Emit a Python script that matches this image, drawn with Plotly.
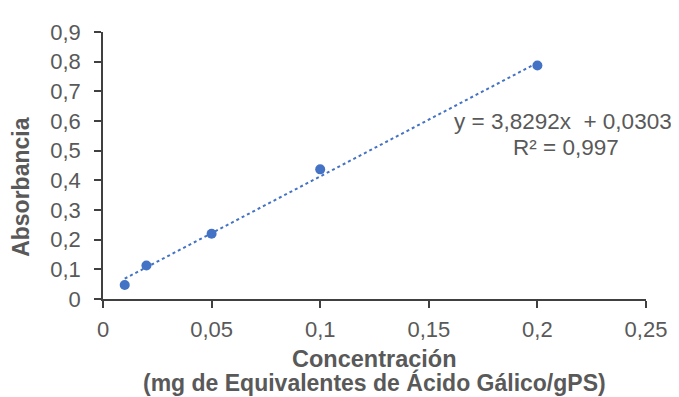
import plotly.graph_objects as go

conc = [0.01, 0.02, 0.05, 0.1, 0.2]
absorb = [0.047, 0.113, 0.22, 0.437, 0.787]
slope = 3.8292
intercept = 0.0303
r2_text = "0,997"

x_ticks = [0, 0.05, 0.1, 0.15, 0.2, 0.25]
x_tick_labels = ["0", "0,05", "0,1", "0,15", "0,2", "0,25"]
y_ticks = [0, 0.1, 0.2, 0.3, 0.4, 0.5, 0.6, 0.7, 0.8, 0.9]
y_tick_labels = ["0", "0,1", "0,2", "0,3", "0,4", "0,5", "0,6", "0,7", "0,8", "0,9"]

x_title_lines = ["Concentración", "(mg de Equivalentes de Ácido Gálico/gPS)"]
y_title = "Absorbancia"

trend_x = [min(conc), max(conc)]
trend_y = [slope * v + intercept for v in trend_x]

blue = "#4472C4"
gray = "#595959"
axis_col = "#404040"
font = "Liberation Sans, Arial, sans-serif"

fig = go.Figure()
fig.add_trace(go.Scatter(x=trend_x, y=trend_y, mode="lines",
                         line=dict(color=blue, width=2, dash="dot"),
                         hoverinfo="skip", showlegend=False))
fig.add_trace(go.Scatter(x=conc, y=absorb, mode="markers",
                         marker=dict(color=blue, size=10),
                         showlegend=False))

eq1 = f"y = {str(slope).replace('.', ',')}x\u00a0 + {str(intercept).replace('.', ',')}"
eq2 = f"R² = {r2_text}"
fig.add_annotation(x=1.052, y=0.663, xref="paper", yref="paper",
                   text=eq1, showarrow=False, xanchor="right", yanchor="middle",
                   font=dict(family=font, size=22.5, color=gray))
fig.add_annotation(x=0.8532, y=0.567, xref="paper", yref="paper",
                   text=eq2, showarrow=False, xanchor="center", yanchor="middle",
                   font=dict(family=font, size=22.5, color=gray))

fig.add_annotation(x=-0.151, y=0.42, xref="paper", yref="paper",
                   text=f"<b>{y_title}</b>", textangle=-90, showarrow=False,
                   xanchor="center", yanchor="middle",
                   font=dict(family=font, size=23, color=gray))
fig.add_annotation(x=0.5, y=-0.2257, xref="paper", yref="paper",
                   text=f"<b>{x_title_lines[0]}</b>", showarrow=False,
                   xanchor="center", yanchor="middle",
                   font=dict(family=font, size=23.5, color=gray))
fig.add_annotation(x=0.5, y=-0.314, xref="paper", yref="paper",
                   text=f"<b>{x_title_lines[1]}</b>", showarrow=False,
                   xanchor="center", yanchor="middle",
                   font=dict(family=font, size=23, color=gray))

fig.update_layout(
    width=671, height=389,
    margin=dict(l=95, r=31, t=19, b=98),
    paper_bgcolor="white", plot_bgcolor="white",
    font=dict(family=font, size=22, color=gray),
)
fig.update_xaxes(range=[0, 0.25], tickvals=x_ticks, ticktext=x_tick_labels,
                 showgrid=False, zeroline=False, showline=True, linecolor=axis_col,
                 linewidth=1.5, ticks="outside", ticklen=7, tickcolor=axis_col,
                 tickwidth=1.5, ticklabelstandoff=3,
                 tickfont=dict(size=22, color=gray))
fig.update_yaxes(range=[0, 0.9], tickvals=y_ticks, ticktext=y_tick_labels,
                 showgrid=False, zeroline=False, showline=True, linecolor=axis_col,
                 linewidth=1.5, ticks="outside", ticklen=7, tickcolor=axis_col,
                 tickwidth=1.5, ticklabelstandoff=9,
                 tickfont=dict(size=22, color=gray))

fig.write_html("out.html")
